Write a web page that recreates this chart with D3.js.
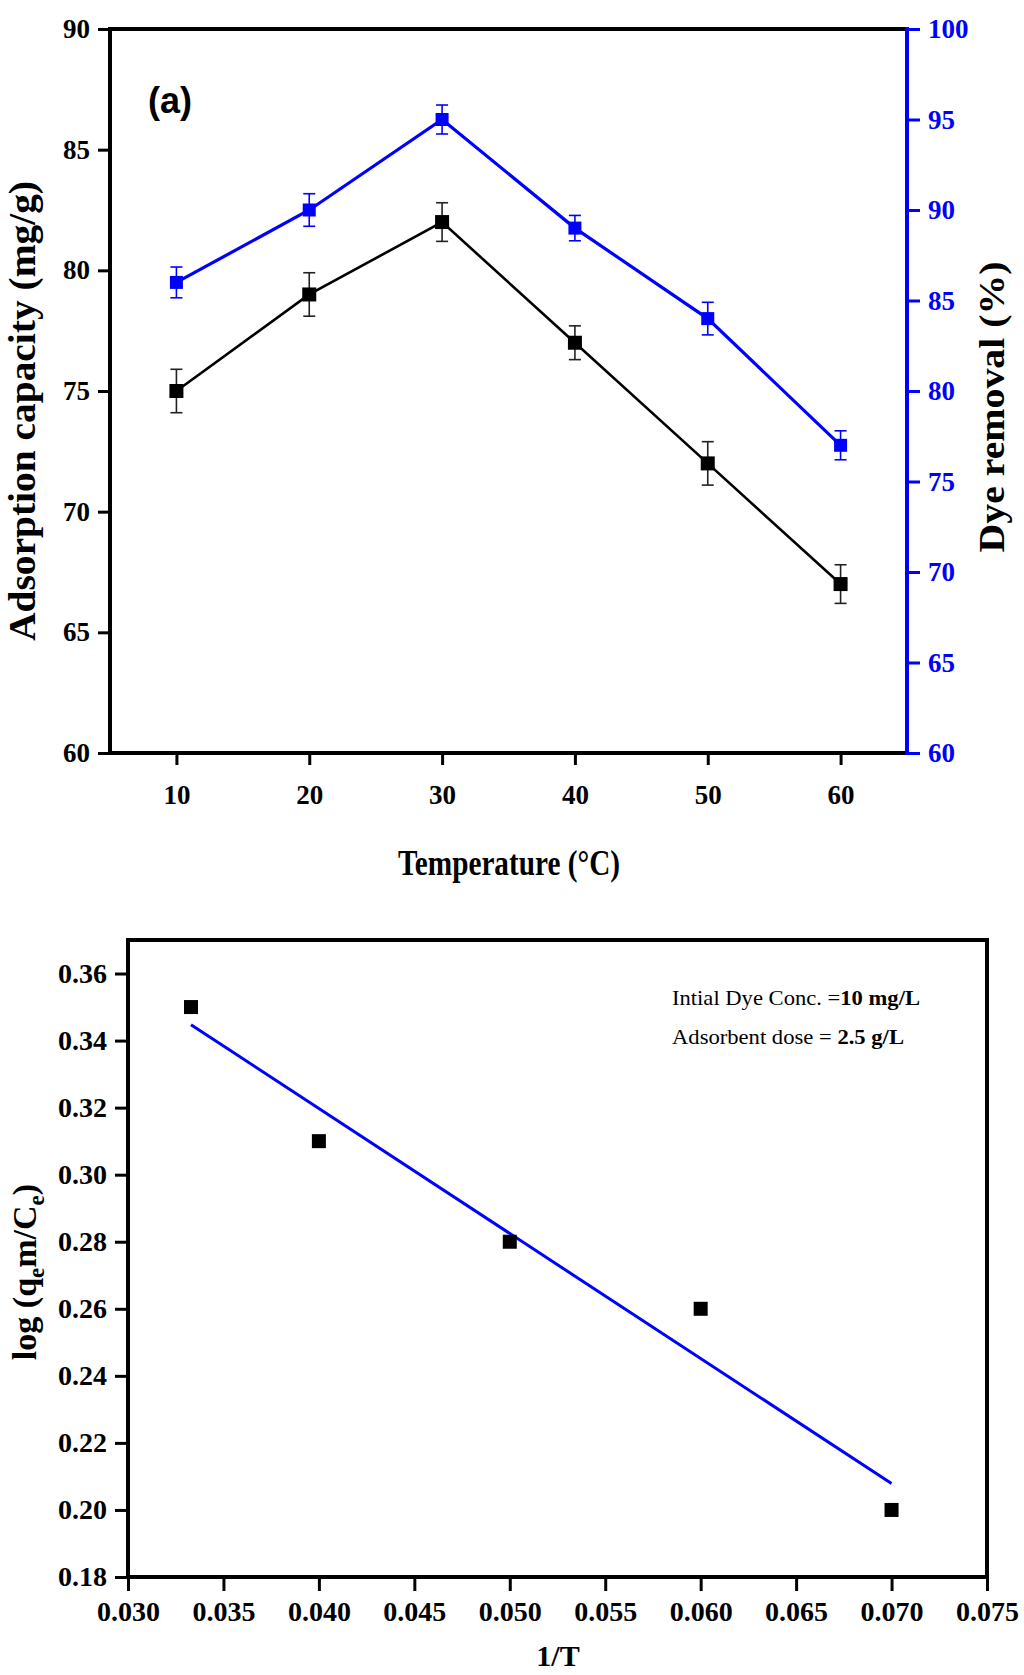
<!DOCTYPE html>
<html>
<head>
<meta charset="utf-8">
<script src="https://cdn.jsdelivr.net/npm/d3@7"></script>
<style>
  body { margin: 0; background: #fff; }
  svg { display: block; }
  text { font-family: "Liberation Serif", "Times New Roman", serif; }
</style>
</head>
<body>
<svg id="fig" width="1024" height="1675"></svg>
<script>
// ---- Panel (a): effect of temperature ----
const temperatures = [10, 20, 30, 40, 50, 60];
const capacity = [75, 79, 82, 77, 72, 67];          // mg/g
const capacityErr = [0.9, 0.9, 0.8, 0.7, 0.9, 0.8];
const removal = [86, 90, 95, 89, 84, 77];           // %
const removalErr = [0.85, 0.9, 0.8, 0.7, 0.9, 0.8];
const tempTicks = [10, 20, 30, 40, 50, 60];
const capacityTicks = [60, 65, 70, 75, 80, 85, 90];
const removalTicks = [60, 65, 70, 75, 80, 85, 90, 95, 100];

// ---- Panel (b): van't Hoff plot ----
const invT = [0.0333, 0.040, 0.050, 0.060, 0.070];
const logK = [0.35, 0.31, 0.28, 0.26, 0.20];
const invTTicks = [0.030, 0.035, 0.040, 0.045, 0.050, 0.055, 0.060, 0.065, 0.070, 0.075];
const logKTicks = [0.18, 0.20, 0.22, 0.24, 0.26, 0.28, 0.30, 0.32, 0.34, 0.36];

const BLUE = "#0000ff";
const svg = d3.select("#fig");
svg.append("rect").attr("width", 1024).attr("height", 1675).attr("fill", "#fff");

function styleAxis(g, color, size) {
  g.select(".domain").remove();
  g.selectAll(".tick line").attr("stroke", color).attr("stroke-width", 3);
  g.selectAll(".tick text")
    .attr("fill", color)
    .attr("font-size", size)
    .attr("font-weight", "bold");
}

function fitText(t, len) {
  t.attr("textLength", len).attr("lengthAdjust", "spacingAndGlyphs");
}

// ================= Panel (a) =================
const a = { left: 110, right: 907, top: 29, bottom: 753 };
const xA = d3.scaleLinear().domain([5, 65]).range([a.left, a.right]);
const yCap = d3.scaleLinear().domain([60, 90]).range([a.bottom, a.top]);
const yRem = d3.scaleLinear().domain([60, 100]).range([a.bottom, a.top]);

const gA = svg.append("g");

gA.append("g").attr("transform", `translate(0,${a.bottom})`)
  .call(d3.axisBottom(xA).tickValues(tempTicks).tickSize(12).tickSizeOuter(0).tickPadding(20).tickFormat(d3.format("d")))
  .call(g => styleAxis(g, "#000", 27));
gA.append("g").attr("transform", `translate(${a.left},0)`)
  .call(d3.axisLeft(yCap).tickValues(capacityTicks).tickSize(12).tickSizeOuter(0).tickPadding(8).tickFormat(d3.format("d")))
  .call(g => styleAxis(g, "#000", 27));
gA.append("g").attr("transform", `translate(${a.right},0)`)
  .call(d3.axisRight(yRem).tickValues(removalTicks).tickSize(13).tickSizeOuter(0).tickPadding(8).tickFormat(d3.format("d")))
  .call(g => styleAxis(g, BLUE, 27));

// frame
const frameA = gA.append("g").attr("stroke-width", 4).attr("stroke-linecap", "square");
frameA.append("line").attr("x1", a.left).attr("x2", a.right).attr("y1", a.top).attr("y2", a.top).attr("stroke", "#000");
frameA.append("line").attr("x1", a.left).attr("x2", a.right).attr("y1", a.bottom).attr("y2", a.bottom).attr("stroke", "#000");
frameA.append("line").attr("x1", a.left).attr("x2", a.left).attr("y1", a.top).attr("y2", a.bottom).attr("stroke", "#000");
frameA.append("line").attr("x1", a.right).attr("x2", a.right).attr("y1", a.top).attr("y2", a.bottom).attr("stroke", BLUE);

const capPts = temperatures.map((t, i) => ({ x: t, y: capacity[i], e: capacityErr[i] }));
const remPts = temperatures.map((t, i) => ({ x: t, y: removal[i], e: removalErr[i] }));

function drawSeries(g, pts, yScale, color, lineW, markerSize, errColor) {
  g.append("path").datum(pts)
    .attr("fill", "none").attr("stroke", color).attr("stroke-width", lineW)
    .attr("stroke-linejoin", "miter")
    .attr("d", d3.line().x(d => xA(d.x)).y(d => yScale(d.y)));
  const eb = g.append("g").attr("stroke", errColor).attr("stroke-width", 1.6);
  pts.forEach(d => {
    const cx = xA(d.x), y1 = yScale(d.y + d.e), y2 = yScale(d.y - d.e);
    eb.append("line").attr("x1", cx).attr("x2", cx).attr("y1", y1).attr("y2", y2);
    eb.append("line").attr("x1", cx - 6).attr("x2", cx + 6).attr("y1", y1).attr("y2", y1);
    eb.append("line").attr("x1", cx - 6).attr("x2", cx + 6).attr("y1", y2).attr("y2", y2);
  });
  g.selectAll(null).data(pts).enter().append("rect")
    .attr("x", d => xA(d.x) - markerSize / 2)
    .attr("y", d => yScale(d.y) - markerSize / 2)
    .attr("width", markerSize).attr("height", markerSize)
    .attr("fill", color);
}

drawSeries(gA.append("g"), capPts, yCap, "#000", 2.6, 14, "#222");
drawSeries(gA.append("g"), remPts, yRem, BLUE, 3.2, 13, BLUE);

// panel label
fitText(gA.append("text").attr("x", 148).attr("y", 113)
  .attr("font-weight", "bold").attr("font-size", 36)
  .style("font-family", "Liberation Sans, Arial, sans-serif")
  .text("(a)"), 44);

// axis titles
fitText(gA.append("text").attr("transform", "translate(35,411) rotate(-90)")
  .attr("text-anchor", "middle").attr("font-weight", "bold").attr("font-size", 38)
  .text("Adsorption capacity (mg/g)"), 460);
fitText(gA.append("text").attr("transform", "translate(1004,407) rotate(-90)")
  .attr("text-anchor", "middle").attr("font-weight", "bold").attr("font-size", 35)
  .text("Dye removal (%)"), 291);
fitText(gA.append("text").attr("x", 509).attr("y", 875)
  .attr("text-anchor", "middle").attr("font-weight", "bold").attr("font-size", 35)
  .text("Temperature (\u00B0C)"), 222);

// ================= Panel (b) =================
const b = { left: 128, right: 987, top: 940, bottom: 1577 };
const xB = d3.scaleLinear().domain([0.030, 0.075]).range([b.left, b.right]);
const yB = d3.scaleLinear().domain([0.18, 0.37]).range([b.bottom, b.top]);
const gB = svg.append("g");

gB.append("g").attr("transform", `translate(0,${b.bottom})`)
  .call(d3.axisBottom(xB).tickValues(invTTicks).tickSize(14).tickSizeOuter(0).tickPadding(10).tickFormat(d3.format(".3f")))
  .call(g => styleAxis(g, "#000", 28));
gB.append("g").attr("transform", `translate(${b.left},0)`)
  .call(d3.axisLeft(yB).tickValues(logKTicks).tickSize(13).tickSizeOuter(0).tickPadding(8).tickFormat(d3.format(".2f")))
  .call(g => styleAxis(g, "#000", 28));

gB.append("rect").attr("x", b.left).attr("y", b.top)
  .attr("width", b.right - b.left).attr("height", b.bottom - b.top)
  .attr("fill", "none").attr("stroke", "#000").attr("stroke-width", 4);

// least-squares fit through the points
const mx = d3.mean(invT), my = d3.mean(logK);
const slope = d3.sum(invT, (x, i) => (x - mx) * (logK[i] - my)) / d3.sum(invT, x => (x - mx) * (x - mx));
const intercept = my - slope * mx;
const fitX = d3.extent(invT);
gB.append("path").datum(fitX.map(x => ({ x, y: intercept + slope * x })))
  .attr("fill", "none").attr("stroke", BLUE).attr("stroke-width", 3)
  .attr("d", d3.line().x(d => xB(d.x)).y(d => yB(d.y)));

gB.selectAll(null).data(invT.map((x, i) => ({ x, y: logK[i] }))).enter().append("rect")
  .attr("x", d => xB(d.x) - 7).attr("y", d => yB(d.y) - 7)
  .attr("width", 14).attr("height", 14).attr("fill", "#000");

// experimental conditions
const note1 = gB.append("text").attr("x", 672).attr("y", 1005).attr("font-size", 22);
note1.append("tspan").text("Intial Dye Conc. =");
note1.append("tspan").attr("font-weight", "bold").text("10 mg/L");
fitText(note1, 248);
const note2 = gB.append("text").attr("x", 672).attr("y", 1044).attr("font-size", 22);
note2.append("tspan").text("Adsorbent dose = ");
note2.append("tspan").attr("font-weight", "bold").text("2.5 g/L");
fitText(note2, 232);

// axis titles
const yt = gB.append("text").attr("transform", "translate(36,1272) rotate(-90)")
  .attr("text-anchor", "middle").attr("font-weight", "bold").attr("font-size", 34);
yt.append("tspan").text("log (q");
yt.append("tspan").attr("font-size", 23).attr("dy", 8).text("e");
yt.append("tspan").attr("dy", -8).text("m/C");
yt.append("tspan").attr("font-size", 23).attr("dy", 8).text("e");
yt.append("tspan").attr("dy", -8).text(")");

gB.append("text").attr("x", 558).attr("y", 1666)
  .attr("text-anchor", "middle").attr("font-weight", "bold").attr("font-size", 30)
  .text("1/T");
</script>
</body>
</html>
